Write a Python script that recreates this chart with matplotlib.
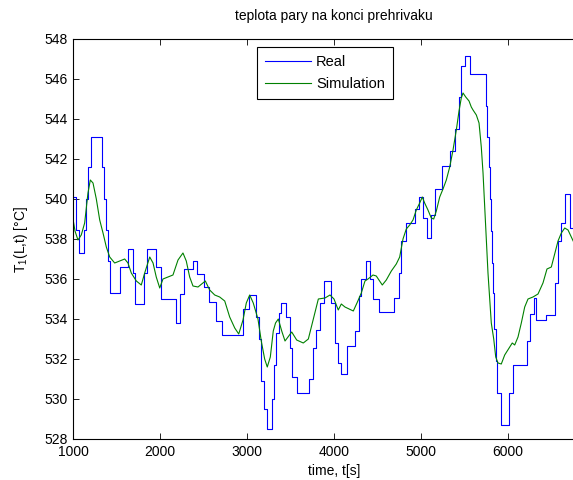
import matplotlib
matplotlib.use("Agg")
import matplotlib.pyplot as plt

plt.rcParams['font.family'] = ['Liberation Sans', 'DejaVu Sans']
plt.rcParams['mathtext.fontset'] = 'custom'
plt.rcParams['mathtext.rm'] = 'Liberation Sans'

# measured temperature (piecewise constant samples), time of each change [s]
real_t = [1000, 1031, 1069, 1126, 1153, 1176, 1207, 1330, 1356, 1383, 1399, 1429,
          1544, 1632, 1690, 1716, 1813, 1851, 1951, 2011, 2180, 2226, 2272, 2379,
          2429, 2502, 2563, 2647, 2716, 2954, 3023, 3107, 3138, 3161, 3199, 3233,
          3284, 3310, 3333, 3368, 3391, 3443, 3491, 3521, 3575, 3713, 3759, 3790,
          3836, 3882, 3969, 4008, 4046, 4084, 4149, 4238, 4287, 4314, 4364, 4410,
          4454, 4517, 4686, 4747, 4773, 4831, 4927, 4973, 5023, 5072, 5111, 5164,
          5245, 5337, 5394, 5437, 5463, 5502, 5567, 5744, 5762, 5778, 5790, 5801,
          5813, 5824, 5839, 5859, 5877, 5916, 6011, 6057, 6218, 6249, 6295, 6325,
          6433, 6537, 6575, 6613, 6652, 6716, 6780]
real_T = [540.1, 538.45, 537.3, 538.45, 540.0, 541.6, 543.1, 541.6, 540.0, 538.45, 536.9, 535.3,
          536.6, 537.5, 536.3, 534.75, 536.3, 537.5, 536.6, 535.0, 533.8, 535.25, 536.5, 536.9,
          536.25, 535.6, 534.85, 533.9, 533.2, 534.5, 535.2, 534.1, 533.0, 530.9, 529.5, 528.5,
          530.0, 531.7, 533.3, 534.3, 534.8, 534.1, 532.55, 531.1, 530.3, 531.0, 532.55, 533.45,
          534.8, 535.9, 534.8, 532.8, 531.8, 531.25, 532.65, 533.4, 535.15, 536.0, 536.9, 536.0,
          535.0, 534.35, 535.05, 536.3, 537.9, 538.8, 539.5, 540.1, 539.05, 538.05, 539.2, 540.5,
          541.65, 542.4, 543.5, 545.1, 546.65, 547.15, 546.25, 544.65, 543.1, 541.6, 540.0, 538.4,
          536.8, 535.3, 533.5, 531.9, 530.3, 528.7, 530.3, 531.7, 532.9, 534.25, 535.05, 533.95,
          534.2, 535.8, 537.9, 538.8, 540.25, 538.55, 538.55]

# simulated temperature
sim_t = [1000, 1023, 1057, 1095, 1134, 1172, 1199, 1230, 1268, 1307, 1345, 1383,
         1422, 1479, 1537, 1594, 1632, 1670, 1728, 1785, 1824, 1882, 1920, 1957,
         1997, 2034, 2092, 2149, 2207, 2264, 2302, 2341, 2379, 2437, 2494, 2521,
         2571, 2629, 2686, 2744, 2801, 2859, 2905, 2954, 2992, 3031, 3072, 3126,
         3164, 3203, 3233, 3268, 3302, 3328, 3360, 3399, 3437, 3514, 3571, 3647,
         3705, 3762, 3820, 3896, 3954, 4000, 4049, 4084, 4126, 4222, 4264, 4314,
         4356, 4391, 4448, 4486, 4525, 4555, 4601, 4659, 4716, 4755, 4793, 4831,
         4870, 4908, 4946, 4985, 5015, 5042, 5080, 5118, 5146, 5176, 5215, 5253,
         5291, 5330, 5368, 5406, 5437, 5463, 5483, 5514, 5552, 5578, 5598, 5636,
         5667, 5693, 5713, 5732, 5751, 5770, 5790, 5808, 5836, 5859, 5885, 5923,
         5962, 6019, 6049, 6077, 6115, 6153, 6192, 6230, 6287, 6345, 6402, 6448,
         6498, 6537, 6575, 6613, 6652, 6690, 6728, 6760]
sim_T = [539.0, 538.4, 537.95, 538.2, 538.8, 540.3, 540.95, 540.8, 540.0, 538.95, 538.3, 537.6,
         537.1, 536.8, 536.9, 537.0, 536.8, 536.3, 535.9, 535.7, 536.3, 537.1, 536.8, 536.1,
         535.55, 536.0, 536.1, 536.2, 536.95, 537.3, 536.9, 536.1, 535.65, 535.6, 535.8, 535.9,
         535.45, 535.2, 535.1, 534.9, 534.1, 533.55, 533.25, 533.95, 534.8, 535.2, 534.8, 534.0,
         532.9, 532.0, 531.6, 532.1, 533.4, 533.8, 534.0, 533.4, 532.9, 533.35, 532.95, 532.8,
         533.0, 534.0, 535.0, 535.05, 535.2, 535.0, 534.45, 534.75, 534.6, 534.4, 534.8, 535.3,
         535.9, 536.0, 536.2, 536.15, 535.9, 535.7, 535.95, 536.4, 536.75, 537.1, 538.0, 538.5,
         538.7, 538.95, 539.45, 539.8, 540.1, 539.8, 539.45, 539.05, 539.0, 539.4, 540.1, 540.5,
         540.95, 541.6, 542.45, 543.45, 544.4, 545.05, 545.3, 545.1, 544.9, 544.6, 544.45, 544.2,
         543.8, 542.6, 541.3, 539.6, 538.0, 536.3, 535.0, 533.8, 533.0, 532.1, 531.8, 531.75,
         532.2, 532.6, 532.8, 532.7, 533.1, 533.8, 534.6, 535.0, 535.1, 535.25, 535.8, 536.5,
         536.6, 537.25, 537.9, 538.3, 538.55, 538.45, 538.1, 537.8]

x_ticks = [1000, 2000, 3000, 4000, 5000, 6000, 7000]
x_labels = ['1000', '2000', '3000', '4000', '5000', '6000', '']

fig = plt.figure(figsize=(5.73, 4.8), dpi=100)
# axes box runs past the right edge of the picture (cropped MATLAB figure)
ax = fig.add_axes([73 / 573, 41 / 480, 522 / 573, 400 / 480])

ax.step(real_t, real_T, where='post', color=(0, 0, 1), lw=0.8, label='Real')
ax.plot(sim_t, sim_T, color=(0, 0.5, 0), lw=0.8, label='Simulation')

ax.set_xlim(1000, 7000)
ax.set_ylim(528, 548)
ax.set_xticks(x_ticks)
ax.set_xticklabels(x_labels)
ax.set_yticks(range(528, 549, 2))
ax.tick_params(direction='in', top=True, right=True, length=4, width=0.6,
               labelsize=10, pad=4)
for s in ax.spines.values():
    s.set_linewidth(0.8)

ax.set_title('teplota pary na konci prehrivaku', fontsize=10, pad=14)
ax.set_xlabel('time, t[s]', fontsize=10, labelpad=4)
ax.set_ylabel(r'T$_{\mathregular{1}}$(L,t) [°C]', fontsize=10, labelpad=10)

leg = ax.legend(loc='upper left', bbox_to_anchor=(0.3525, 0.979), borderaxespad=0,
                fontsize=10.5, handlelength=3.15, fancybox=False, framealpha=1,
                edgecolor='black', borderpad=0.55, labelspacing=0.5, handletextpad=0.35)
leg.get_frame().set_linewidth(0.8)

fig.savefig('out.png', dpi=100)
